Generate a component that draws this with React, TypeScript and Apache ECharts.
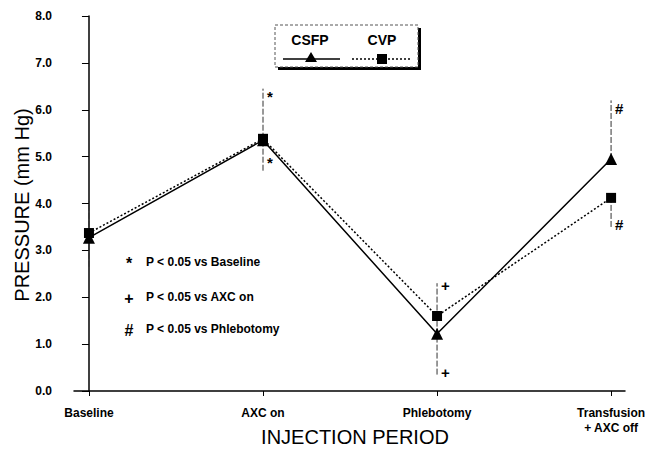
import React, { useEffect, useRef } from "react";
import * as echarts from "echarts";

const categories = ["Baseline", "AXC on", "Phlebotomy", "Transfusion\n+ AXC off"];
const csfp = [3.27, 5.35, 1.22, 4.95];
const cvp = [3.37, 5.38, 1.6, 4.12];
// [category index, low, high]
const errSegments = [
  [0, 2.65, 4.05],
  [1, 4.7, 6.45],
  [2, 0.35, 2.3],
  [3, 4.95, 6.2],
  [3, 3.5, 4.12],
];
// [category index, value]
const sigPos = [
  [1, 6.28],
  [1, 4.88],
  [2, 2.26],
  [2, 0.4],
  [3, 6.03],
  [3, 3.56],
];
const sigSymbols = ["*", "*", "+", "+", "#", "#"];
const footnotes = [
  ["*", "P < 0.05 vs Baseline"],
  ["+", "P < 0.05 vs AXC on"],
  ["#", "P < 0.05 vs Phlebotomy"],
];

const FONT = "Liberation Sans, Arial, sans-serif";

export default function App() {
  const ref = useRef<HTMLDivElement>(null);
  useEffect(() => {
    if (!ref.current) return;
    const chart = echarts.init(ref.current, null, { renderer: "svg" });
    const footY = [262, 297, 329];
    const graphic: any[] = [
      { type: "rect", shape: { x: 278, y: 28, width: 143, height: 42 }, style: { fill: "#000" } },
      {
        type: "rect",
        shape: { x: 275, y: 25, width: 143, height: 42 },
        style: { fill: "#fff", stroke: "#555", lineWidth: 1, lineDash: [3, 2] },
      },
      { type: "text", x: 310, y: 40, style: { text: "CSFP", font: `bold 14px ${FONT}`, fill: "#000", align: "center", verticalAlign: "middle" } },
      { type: "text", x: 382, y: 40, style: { text: "CVP", font: `bold 14px ${FONT}`, fill: "#000", align: "center", verticalAlign: "middle" } },
      { type: "line", shape: { x1: 283, y1: 59, x2: 340, y2: 59 }, style: { stroke: "#000", lineWidth: 1.5 } },
      { type: "polygon", shape: { points: [[311, 52], [305, 62], [317, 62]] }, style: { fill: "#000" } },
      { type: "line", shape: { x1: 352, y1: 59, x2: 410, y2: 59 }, style: { stroke: "#000", lineWidth: 1.5, lineDash: [2, 2] } },
      { type: "rect", shape: { x: 377, y: 54, width: 10, height: 10 }, style: { fill: "#000" } },
      {
        type: "text",
        x: 22,
        y: 205,
        rotation: Math.PI / 2,
        style: { text: "PRESSURE (mm Hg)", font: `20px ${FONT}`, fill: "#000", align: "center", verticalAlign: "middle" },
      },
      {
        type: "text",
        x: 355,
        y: 437,
        style: { text: "INJECTION PERIOD", font: `20px ${FONT}`, fill: "#000", align: "center", verticalAlign: "middle" },
      },
    ];
    footnotes.forEach((f, i) => {
      graphic.push({
        type: "text",
        x: 129,
        y: footY[i] + 1,
        style: { text: f[0], font: `bold 16px ${FONT}`, fill: "#000", align: "center", verticalAlign: "middle" },
      });
      graphic.push({
        type: "text",
        x: 146,
        y: footY[i],
        style: { text: f[1], font: `bold 12px ${FONT}`, fill: "#000", align: "left", verticalAlign: "middle" },
      });
    });

    chart.setOption({
      animation: false,
      backgroundColor: "#fff",
      textStyle: { fontFamily: FONT },
      grid: { left: 74, right: 27, top: 16, bottom: 63 },
      xAxis: {
        type: "value",
        min: -0.086,
        max: 3.08,
        splitLine: { show: false },
        axisLine: { show: true, lineStyle: { color: "#000", width: 1.5 } },
        axisTick: { show: true, customValues: [0, 1, 2, 3], length: 5, lineStyle: { color: "#000" } },
        axisLabel: {
          customValues: [0, 1, 2, 3],
          formatter: (v: number) => categories[Math.round(v)],
          color: "#000",
          fontWeight: "bold",
          fontSize: 12,
          margin: 14,
          lineHeight: 15,
        },
      },
      yAxis: {
        type: "value",
        min: 0,
        max: 8,
        interval: 1,
        splitLine: { show: false },
        axisLine: { show: true, lineStyle: { color: "#000", width: 1.5 } },
        axisTick: { show: true, length: 7, lineStyle: { color: "#000" } },
        axisLabel: {
          formatter: (v: number) => v.toFixed(1),
          color: "#000",
          fontWeight: "bold",
          fontSize: 12,
          margin: 22,
        },
      },
      graphic,
      series: [
        {
          type: "custom",
          name: "err",
          data: errSegments,
          renderItem: (params: any, api: any) => {
            const p1 = api.coord([api.value(0), api.value(1)]);
            const p2 = api.coord([api.value(0), api.value(2)]);
            return {
              type: "line",
              shape: { x1: p1[0], y1: p1[1], x2: p2[0], y2: p2[1] },
              style: { stroke: "#333", lineWidth: 1, lineDash: [6, 2] },
            };
          },
          z: 1,
        },
        {
          type: "line",
          name: "CSFP",
          data: csfp.map((v, i) => [i, v]),
          lineStyle: { color: "#000", width: 1.5, type: "solid" },
          itemStyle: { color: "#000" },
          symbol: "triangle",
          symbolSize: 12,
          z: 3,
        },
        {
          type: "line",
          name: "CVP",
          data: cvp.map((v, i) => [i, v]),
          lineStyle: { color: "#000", width: 1.5, type: [2, 2] },
          itemStyle: { color: "#000" },
          symbol: "rect",
          symbolSize: 10,
          z: 4,
        },
        {
          type: "custom",
          name: "sig",
          data: sigPos,
          renderItem: (params: any, api: any) => {
            const p = api.coord([api.value(0), api.value(1)]);
            return {
              type: "text",
              x: p[0] + 4,
              y: p[1],
              style: {
                text: sigSymbols[params.dataIndex],
                font: `bold 15px ${FONT}`,
                fill: "#000",
                align: "left",
                verticalAlign: "middle",
              },
            };
          },
          z: 5,
        },
      ],
    });
    return () => chart.dispose();
  }, []);
  return <div ref={ref} style={{ width: 652, height: 454, position: "fixed", left: 0, top: 0 }} />;
}
